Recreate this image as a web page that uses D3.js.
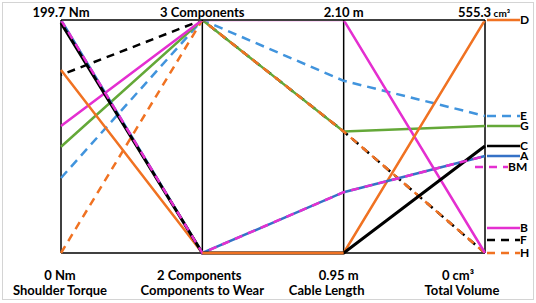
<!DOCTYPE html>
<html>
<head>
<meta charset="utf-8">
<script src="https://cdn.jsdelivr.net/npm/d3@7"></script>
<style>
  body { margin: 0; background: #fff; }
  text { font-family: Lato, "Open Sans", sans-serif; font-weight: bold; fill: #000; }
</style>
</head>
<body>
<div id="chart"></div>
<script>
// parallel coordinates: four design criteria per option

var dimensions = ["Shoulder Torque", "Components to Wear", "Cable Length", "Total Volume"];
var minLabels = ["0 Nm", "2 Components", "0.95 m", "0 cm³"];
var maxLabels = ["199.7 Nm", "3 Components", "2.10 m", "555.3"];
var domains = [[0, 199.7], [2, 3], [0.95, 2.10], [0, 555.3]];

var seriesNames = ["E", "F", "G", "H", "B", "D", "A", "C", "BM"];
var valuesE  = [64.3, 3, 1.80, 326.5];
var valuesF  = [152.6, 3, 1.55, 0];
var valuesG  = [91.1, 3, 1.55, 302.7];
var valuesH  = [0, 3, 1.55, 0];
var valuesB  = [108.9, 3, 2.10, 0];
var valuesD  = [156.8, 2, 0.95, 555.3];
var valuesA  = [199.7, 2, 1.25, 231];
var valuesC  = [197.1, 2, 0.95, 255];
var valuesBM = [199.7, 2, 1.25, 231];
var seriesValues = [valuesE, valuesF, valuesG, valuesH, valuesB, valuesD, valuesA, valuesC, valuesBM];

// look of each series
var styles = {
  A:  {color: "#3572c6", dash: null},
  B:  {color: "#e42fd0", dash: null, legendShift: -25},
  BM: {color: "#e42fd0", dash: "8,6", legendShift: 11, legendLeft: 12},
  C:  {color: "#000000", dash: null},
  D:  {color: "#f07222", dash: null},
  E:  {color: "#4194dd", dash: "9,6"},
  F:  {color: "#000000", dash: "8,6", offset: 7, legendShift: -13},
  G:  {color: "#64a838", dash: null},
  H:  {color: "#f07222", dash: "8,6"}
};

var W = 536, H = 303;
var yTop = 20, yBot = 253;

var svg = d3.select("#chart").append("svg")
  .attr("width", W)
  .attr("height", H);

svg.append("defs").append("clipPath")
  .attr("id", "plotclip")
  .append("rect")
  .attr("x", 0).attr("y", yTop + 1.2)
  .attr("width", W).attr("height", H);

svg.append("rect")
  .attr("x", 2.5).attr("y", 2.5)
  .attr("width", W - 5).attr("height", H - 6)
  .attr("fill", "none")
  .attr("stroke", "#d4d4d4");

var x = d3.scalePoint().domain(dimensions).range([61, 485]);
var y = domains.map(function(dm){
  return d3.scaleLinear().domain(dm).range([yBot, yTop]);
});

var data = seriesNames.map(function(n, i){
  return {name: n, values: seriesValues[i]};
});

var line = d3.line()
  .x(function(v, i){ return x(dimensions[i]); })
  .y(function(v, i){ return y[i](v); });

// frame
var frame = svg.append("g").attr("stroke", "#000").attr("stroke-width", 1.5);
frame.selectAll(".axisline")
  .data(dimensions).enter()
  .append("line")
  .attr("x1", function(d){ return x(d); })
  .attr("x2", function(d){ return x(d); })
  .attr("y1", yTop).attr("y2", yBot);
frame.append("line")
  .attr("x1", x.range()[0]).attr("x2", x.range()[1])
  .attr("y1", yBot).attr("y2", yBot);
frame.append("line")
  .attr("x1", x.range()[0]).attr("x2", x.range()[1])
  .attr("y1", yTop).attr("y2", yTop);

var paths = svg.append("g")
  .attr("clip-path", "url(#plotclip)")
  .selectAll("path")
  .data(data).enter()
  .append("path")
  .attr("d", function(d){ return line(d.values); })
  .attr("fill", "none")
  .attr("stroke", function(d){ return styles[d.name].color; })
  .attr("stroke-width", function(d){ return d.name == "C" ? 3 : 2.5; })
  .attr("stroke-dasharray", function(d){ return styles[d.name].dash; })
  .attr("stroke-dashoffset", function(d){ return styles[d.name].offset || 0; });

// orange D sits on top along the bottom edge between axes 2 and 3
svg.append("path")
  .attr("clip-path", "url(#plotclip)")
  .attr("d", line(valuesD.slice(0, 3)).replace(/^M[^L]*L/, "M"))
  .attr("fill", "none")
  .attr("stroke", styles.D.color)
  .attr("stroke-width", 2.5);

// legend at the right edge
var last = dimensions.length - 1;
var legend = svg.append("g").selectAll("g")
  .data(data).enter()
  .append("g")
  .attr("transform", function(d){
    var ly = y[last](d.values[last]) + (styles[d.name].legendShift || 0);
    var lx = x(dimensions[last]) - (styles[d.name].legendLeft || 0);
    return "translate(" + lx + "," + ly + ")";
  });
legend.append("line")
  .attr("x1", 2).attr("x2", 35)
  .attr("stroke", function(d){ return styles[d.name].color; })
  .attr("stroke-width", 2.5)
  .attr("stroke-dasharray", function(d){ return styles[d.name].dash; });
legend.append("text")
  .attr("x", 35)
  .attr("dy", "0.36em")
  .style("font-size", "12px")
  .text(function(d){ return d.name; });

// axis end labels
svg.append("g").selectAll("text")
  .data(maxLabels).enter()
  .append("text")
  .attr("x", function(d, i){ return x(dimensions[i]) - (i == last ? 1 : 0); })
  .attr("y", 17)
  .attr("text-anchor", "middle")
  .style("font-size", "13px")
  .each(function(d, i){
    var t = d3.select(this);
    t.append("tspan").text(d);
    if (i == last) t.append("tspan").style("font-size", "10px").text(" cm³");
  });

var minShift = [-1, -3, -5, -27];
var nameShift = [-1, 0, -17, -23];
svg.append("g").selectAll("text")
  .data(minLabels).enter()
  .append("text")
  .attr("x", function(d, i){ return x(dimensions[i]) + minShift[i]; })
  .attr("y", 280)
  .attr("text-anchor", "middle")
  .style("font-size", "13px")
  .text(function(d){ return d; });

svg.append("g").selectAll("text")
  .data(dimensions).enter()
  .append("text")
  .attr("x", function(d, i){ return x(d) + nameShift[i]; })
  .attr("y", 295)
  .attr("text-anchor", "middle")
  .style("font-size", "13px")
  .text(function(d){ return d; });
</script>
</body>
</html>
